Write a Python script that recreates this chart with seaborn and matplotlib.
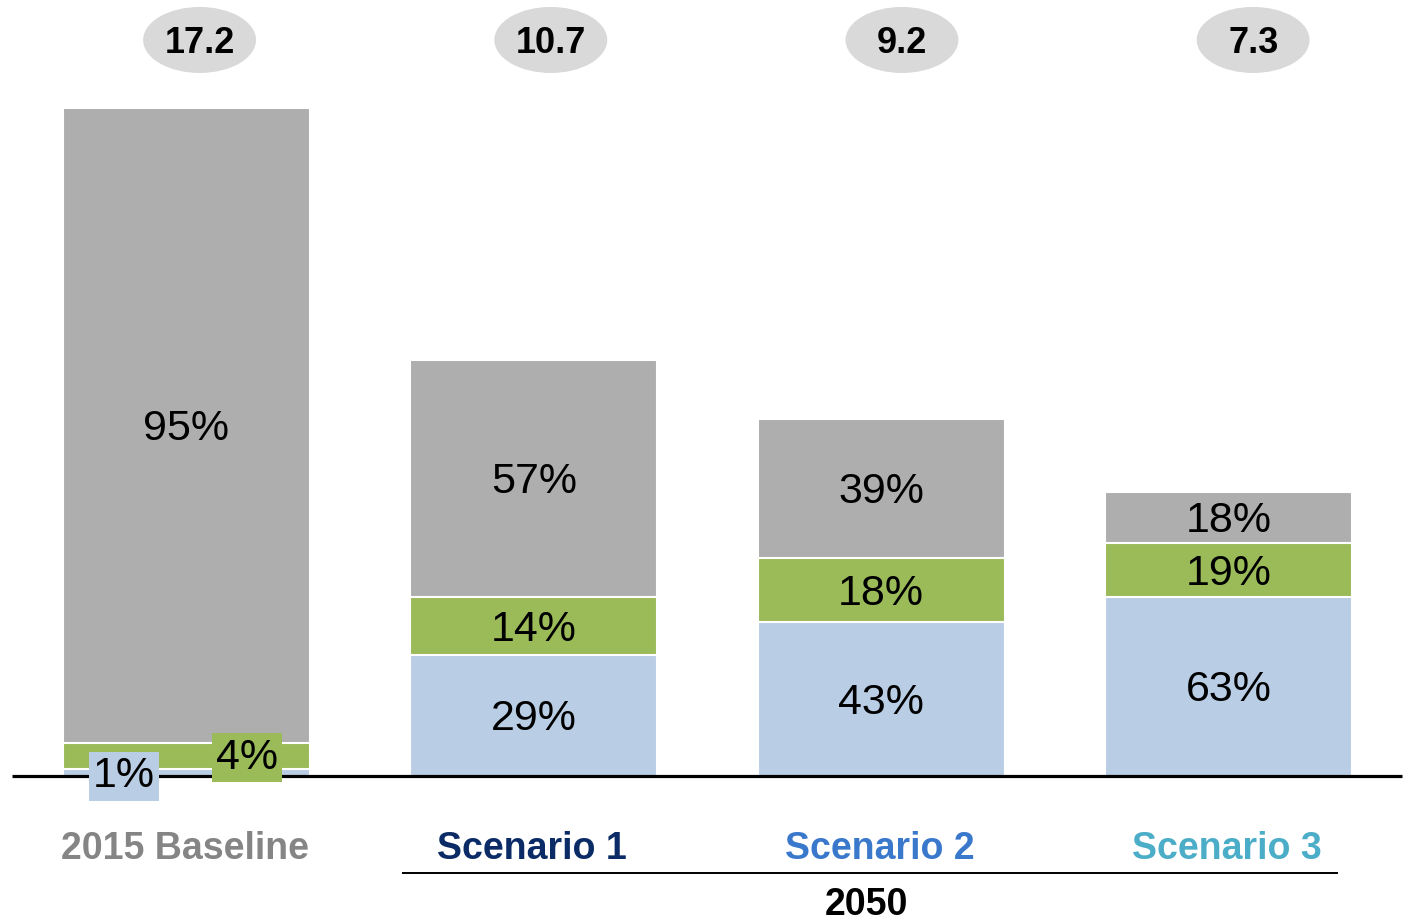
import matplotlib
matplotlib.use("Agg")
import matplotlib.pyplot as plt
from matplotlib.patches import Ellipse
import numpy as np
import pandas as pd
import seaborn as sns

# Totals per case and the share of each component (percent)
categories = ["2015 Baseline", "Scenario 1", "Scenario 2", "Scenario 3"]
totals = [17.2, 10.7, 9.2, 7.3]
share_blue = [1, 29, 43, 63]
share_green = [4, 14, 18, 19]
share_gray = [95, 57, 39, 18]
label_colors = ["#858585", "#0B2B66", "#3A78CC", "#4BADC7"]
group_label = "2050"

C_GRAY = "#AEAEAE"
C_GREEN = "#9BBB59"
C_BLUE = "#B9CDE5"

sns.set_theme(style="white")
plt.rcParams["font.family"] = ["Liberation Sans", "DejaVu Sans"]

tot = np.array(totals)
blue = tot * np.array(share_blue) / 100
green = tot * np.array(share_green) / 100
gray = tot * np.array(share_gray) / 100

df = pd.DataFrame({
    "case": categories,
    "top": blue + green + gray,
    "mid": blue + green,
    "low": blue,
})

fig = plt.figure(figsize=(14.08, 9.22), dpi=100)
ax = fig.add_axes([0, 0, 1, 1])

bar_kw = dict(width=0.711, edgecolor="white", linewidth=1.5, order=categories)
sns.barplot(data=df, x="case", y="top", color=C_GRAY, saturation=1, ax=ax, **bar_kw)
sns.barplot(data=df, x="case", y="mid", color=C_GREEN, saturation=1, ax=ax, **bar_kw)
sns.barplot(data=df, x="case", y="low", color=C_BLUE, saturation=1, ax=ax, **bar_kw)

ax.set_xlim(-0.5366, 3.5168)
ax.set_ylim(-3.759, 19.979)
ax.set_axis_off()

# baseline
ax.plot([-0.502, 3.4995], [0, 0], color="black", lw=2.3, solid_capstyle="butt", zorder=5)

DY = -0.09  # nudge so digits sit optically centred

pct_kw = dict(ha="center", va="center", fontsize=31, color="black", zorder=6)
for i in range(len(categories)):
    b, g, r = blue[i], green[i], gray[i]
    ax.text(i, b + g + r / 2 + DY, f"{share_gray[i]}%", **pct_kw)
    if i == 0:
        ax.text(i - 0.18, 0.08 + DY, f"{share_blue[i]}%",
                bbox=dict(boxstyle="square,pad=0.1", fc=C_BLUE, ec="none"), **pct_kw)
        ax.text(i + 0.175, 0.56 + DY, f"{share_green[i]}%",
                bbox=dict(boxstyle="square,pad=0.1", fc=C_GREEN, ec="none"), **pct_kw)
    else:
        ax.text(i, b + g / 2 + DY, f"{share_green[i]}%", **pct_kw)
        ax.text(i, b / 2 + DY, f"{share_blue[i]}%", **pct_kw)

    # total in a grey bubble above each bar
    cx = i + 0.038 + 0.011 * i
    ax.add_patch(Ellipse((cx, 18.95), 0.325, 1.70, fc="#D9D9D9", ec="none", zorder=4))
    ax.text(cx, 18.95 + DY, f"{totals[i]}", ha="center", va="center", fontsize=26,
            fontweight="bold", color="black", zorder=6)

    # category label
    ax.text(i - 0.005, -1.78 + DY, categories[i], ha="center", va="center", fontsize=27,
            fontweight="bold", color=label_colors[i])

# group bracket for the 2050 scenarios
ax.plot([0.621, 3.316], [-2.497, -2.497], color="black", lw=1.4, solid_capstyle="butt")
ax.text(1.957, -3.33, group_label, ha="center", va="center", fontsize=27,
        fontweight="bold", color="black")

fig.savefig("out.png", dpi=100)
